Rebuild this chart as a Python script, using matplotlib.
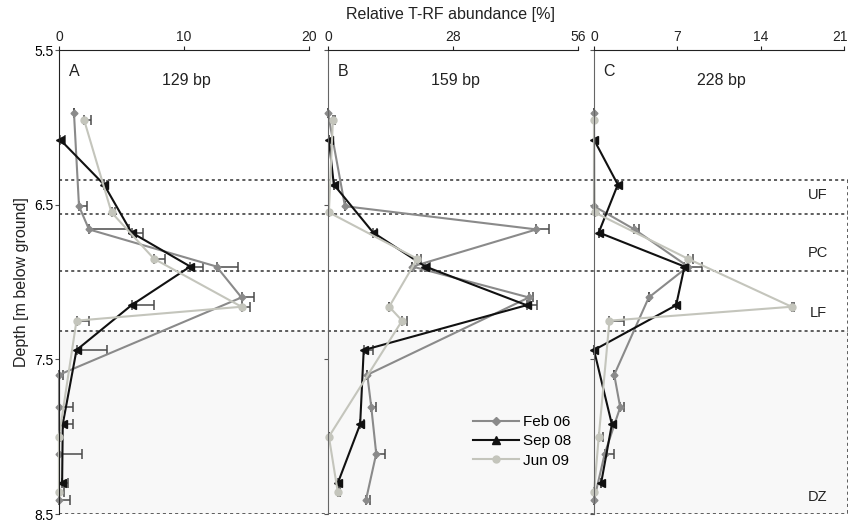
import matplotlib
matplotlib.use("Agg")
import matplotlib.pyplot as plt
import matplotlib.transforms as mtransforms
from matplotlib.lines import Line2D
import numpy as np

plt.rcParams['font.family'] = ['Liberation Sans', 'DejaVu Sans']

# =====================================================================
# DATA: sampling depths (m below ground) and relative abundance (%)
# =====================================================================
feb_depth = [5.91, 6.51, 6.66, 6.90, 7.10, 7.60, 7.81, 8.11, 8.41]
sep_depth = [6.08, 6.37, 6.68, 6.90, 7.15, 7.44, 7.92, 8.30]
jun_depth = [5.95, 6.55, 6.85, 7.16, 7.25, 8.00, 8.36]

# 129 bp
feb_129 = [1.2, 1.6, 2.4, 12.6, 14.6, 0.0, 0.0, 0.0, 0.0]
feb_129_err = [0.0, 0.6, 3.2, 1.7, 1.0, 0.3, 1.1, 1.8, 0.9]
sep_129 = [0.1, 3.6, 5.8, 10.5, 5.8, 1.4, 0.3, 0.25]
sep_129_err = [0.4, 0.2, 0.9, 1.0, 1.8, 2.4, 0.8, 0.5]
jun_129 = [2.0, 4.2, 7.6, 14.6, 1.4, 0.0, 0.0]
jun_129_err = [0.55, 0.3, 0.9, 0.7, 1.0, 0.1, 0.4]

# 159 bp
feb_159 = [0.0, 3.8, 46.7, 18.9, 45.0, 8.8, 9.7, 10.8, 8.5]
feb_159_err = [0.0, 0.0, 2.7, 0.0, 1.0, 0.0, 1.1, 2.0, 0.9]
sep_159 = [0.2, 1.3, 10.1, 21.8, 44.5, 8.0, 7.2, 2.2]
sep_159_err = [0.0, 0.0, 0.9, 1.1, 2.3, 2.0, 0.8, 0.3]
jun_159 = [1.1, 0.2, 20.0, 13.7, 16.6, 0.2, 2.2]
jun_159_err = [0.5, 0.0, 0.8, 0.0, 1.0, 0.0, 0.5]

# 228 bp
feb_228 = [0.0, 0.0, 3.4, 7.9, 4.6, 1.7, 2.2, 0.9, 0.0]
feb_228_err = [0.0, 0.0, 0.35, 1.2, 0.0, 0.0, 0.3, 0.8, 0.0]
sep_228 = [0.0, 2.0, 0.4, 7.6, 6.9, 0.0, 1.5, 0.6]
sep_228_err = [0.0, 0.0, 0.0, 0.3, 0.0, 0.0, 0.0, 0.0]
jun_228 = [0.0, 0.05, 7.9, 16.6, 1.3, 0.4, 0.0]
jun_228_err = [0.0, 0.0, 0.4, 0.2, 1.2, 0.35, 0.0]

panel_letters = ['A', 'B', 'C']
panel_titles = ['129 bp', '159 bp', '228 bp']
panel_ticks = [[0, 10, 20], [0, 28, 56], [0, 7, 14, 21]]
depth_ticks = [5.5, 6.5, 7.5, 8.5]

# zone boundaries (m) and labels
zone_bounds = [6.34, 6.56, 6.93, 7.32, 8.5]
zone_names = ['UF', 'PC', 'LF', 'DZ']
zone_label_depth = [6.44, 6.81, 7.20, 8.39]

series_names = ['Feb 06', 'Sep 08', 'Jun 09']
series_colors = ['#8a8a8a', '#111111', '#c4c5bc']
series_markers = ['D', '<', 'o']
series_msize = [3.5, 6, 5]

panels = [
    [(feb_depth, feb_129, feb_129_err), (sep_depth, sep_129, sep_129_err), (jun_depth, jun_129, jun_129_err)],
    [(feb_depth, feb_159, feb_159_err), (sep_depth, sep_159, sep_159_err), (jun_depth, jun_159, jun_159_err)],
    [(feb_depth, feb_228, feb_228_err), (sep_depth, sep_228, sep_228_err), (jun_depth, jun_228, jun_228_err)],
]

# =====================================================================
# FIGURE
# =====================================================================
W, H = 850, 522
fig = plt.figure(figsize=(W / 100, H / 100), dpi=100, facecolor='white')

top_px, bot_px = 50, 514
ax_h = (bot_px - top_px) / H
ax_y = (H - bot_px) / H
lefts = [59, 328, 594]
width_px = 250

# background axes with the zone boxes, spanning all three panels
bg = fig.add_axes([59 / W, ax_y, (848 - 59) / W, ax_h], zorder=0)
bg.set_ylim(8.5, 5.5)
bg.set_xlim(0, 1)
bg.axis('off')
bg.axhspan(zone_bounds[3], zone_bounds[4], color='#f8f8f8', lw=0)
bg.hlines(zone_bounds, 0, 1, colors='#333333', linestyles=(0, (2, 2)), lw=1.1)
bg.vlines([0, 1], zone_bounds[0], zone_bounds[-1], colors='#333333',
          linestyles=(0, (2, 2)), lw=1.1)
for name, d in zip(zone_names, zone_label_depth):
    bg.text(0.962, d, name, ha='center', va='center', fontsize=10.5, color='#222222')

axes = []
for i in range(3):
    ax = fig.add_axes([lefts[i] / W, ax_y, width_px / W, ax_h], zorder=1)
    ax.set_facecolor('none')
    ticks = panel_ticks[i]
    ax.set_xlim(ticks[0], ticks[-1])
    ax.set_ylim(8.5, 5.5)
    ax.xaxis.tick_top()
    ax.set_xticks(ticks)
    ax.set_yticks(depth_ticks)
    ax.spines['right'].set_visible(False)
    ax.spines['bottom'].set_visible(False)
    spine_col = '#222222' if i == 0 else '#666666'
    ax.spines['left'].set_color(spine_col)
    ax.spines['top'].set_color('#222222')
    ax.tick_params(axis='x', direction='out', length=3, pad=1, labelsize=10, colors='#222222')
    ax.tick_params(axis='y', direction='out', length=3, labelsize=10, pad=1, color='#555555')
    if i > 0:
        ax.tick_params(axis='y', labelleft=False)

    for (depth, vals, err), col, mk, ms, lab in zip(panels[i], series_colors,
                                                    series_markers, series_msize, series_names):
        xerr = [np.zeros(len(err)), err]
        ax.errorbar(vals, depth, xerr=xerr, color=col, marker=mk, markersize=ms,
                    lw=1.5, ecolor='#4a4a4a', elinewidth=1.1, capsize=3.5, capthick=1.1,
                    clip_on=False, label=lab)

    ax.text(0.06, 0.97, panel_letters[i], transform=ax.transAxes, fontsize=11.5,
            ha='center', va='top', color='#222222')
    ax.text(0.51, 0.95, panel_titles[i], transform=ax.transAxes, fontsize=11.5,
            ha='center', va='top', color='#222222')
    axes.append(ax)

# nudge the last top label of panel C so it stays inside the figure
last_lbl = axes[2].get_xticklabels()[-1]
last_lbl.set_transform(last_lbl.get_transform() +
                       mtransforms.ScaledTranslation(-4 / 100, 0, fig.dpi_scale_trans))

axes[0].set_ylabel('Depth [m below ground]', fontsize=11.5, labelpad=4, color='#222222')

# legend with upright markers
handles = [Line2D([], [], color=c, marker=m, markersize=s, lw=1.5)
           for c, m, s in zip(series_colors, ['D', '^', 'o'], [4, 6, 5])]
axes[1].legend(handles, series_names, loc='lower right', bbox_to_anchor=(1.03, 0.07),
               frameon=False, fontsize=11, handlelength=3.0, labelspacing=0.35,
               handletextpad=0.3)

fig.text(450 / W, 1 - 14 / H, 'Relative T-RF abundance [%]', ha='center', va='center',
         fontsize=11.5, color='#222222')

fig.savefig('out.png', dpi=100)
